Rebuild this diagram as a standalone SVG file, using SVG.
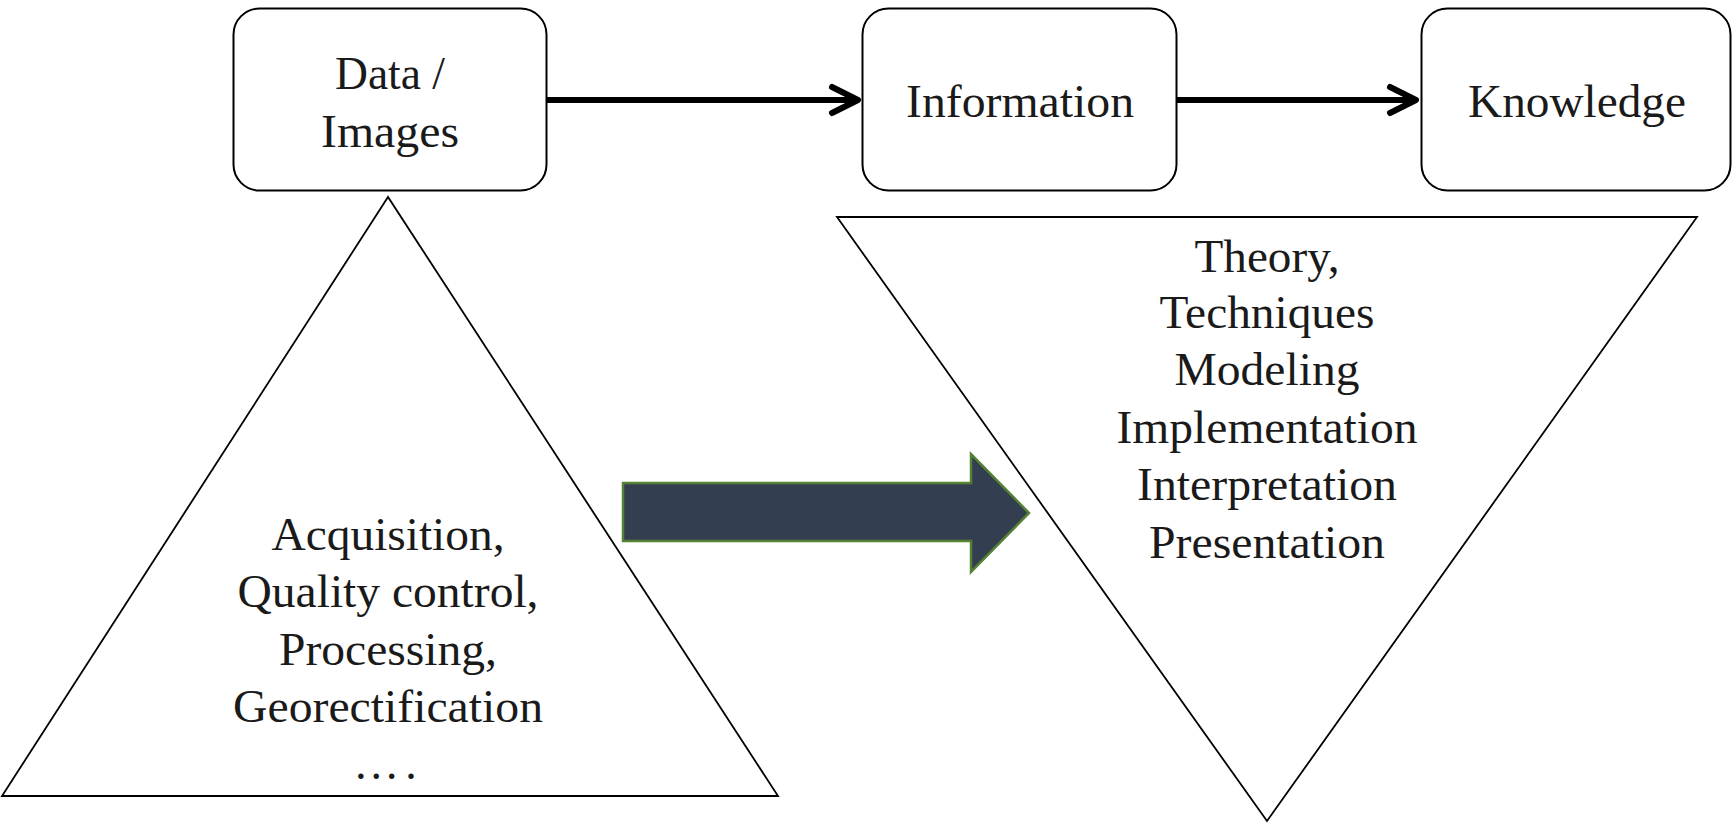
<svg xmlns="http://www.w3.org/2000/svg" width="1732" height="823" viewBox="0 0 1732 823">
  <style>
    .box { fill: #ffffff; stroke: #000000; stroke-width: 2; }
    .tri { fill: #ffffff; stroke: #000000; stroke-width: 1.8; stroke-linejoin: miter; }
    .lbl { font-family: "Liberation Serif", "Times New Roman", serif; font-size: 46px; fill: #1a1a1a; text-anchor: middle; }
    .conn { stroke: #000000; stroke-width: 6; fill: none; }
    .big { fill: #333f50; stroke: #548235; stroke-width: 2.5; }
  </style>
  <defs>
    <marker id="chev" markerUnits="userSpaceOnUse" viewBox="-34 -20 40 40" refX="0" refY="0" markerWidth="40" markerHeight="40" orient="auto" overflow="visible">
      <path d="M-26,-13 L0,0 L-26,13" fill="none" stroke="#000000" stroke-width="6" stroke-linecap="round" stroke-linejoin="round"/>
    </marker>
  </defs>
  <rect width="1732" height="823" fill="#ffffff"/>

  <g id="triangle-left">
    <polygon class="tri" points="388,197 2,796 778,796"/>
    <text class="lbl" x="388" y="550" textLength="233" lengthAdjust="spacingAndGlyphs">Acquisition,</text>
    <text class="lbl" x="388" y="607" textLength="301" lengthAdjust="spacingAndGlyphs">Quality control,</text>
    <text class="lbl" x="388" y="665" textLength="218" lengthAdjust="spacingAndGlyphs">Processing,</text>
    <text class="lbl" x="388" y="722" textLength="310" lengthAdjust="spacingAndGlyphs">Georectification</text>
    <text class="lbl" x="388" y="779" letter-spacing="6">….</text>
  </g>

  <g id="triangle-right">
    <polygon class="tri" points="837,217 1697,217 1267,821"/>
    <text class="lbl" x="1267" y="272" textLength="145" lengthAdjust="spacingAndGlyphs">Theory,</text>
    <text class="lbl" x="1267" y="328" textLength="215" lengthAdjust="spacingAndGlyphs">Techniques</text>
    <text class="lbl" x="1267" y="385" textLength="185" lengthAdjust="spacingAndGlyphs">Modeling</text>
    <text class="lbl" x="1267" y="443" textLength="301" lengthAdjust="spacingAndGlyphs">Implementation</text>
    <text class="lbl" x="1267" y="500" textLength="260" lengthAdjust="spacingAndGlyphs">Interpretation</text>
    <text class="lbl" x="1267" y="558" textLength="236" lengthAdjust="spacingAndGlyphs">Presentation</text>
  </g>

  <g id="block-arrow">
    <polygon class="big" points="623,483 971,483 971,454 1029,513 971,572 971,541 623,541"/>
  </g>

  <g id="connectors">
    <line class="conn" x1="547" y1="100" x2="858" y2="100" marker-end="url(#chev)"/>
    <line class="conn" x1="1177" y1="100" x2="1416" y2="100" marker-end="url(#chev)"/>
  </g>

  <g id="node-data">
    <rect class="box" x="233.5" y="8.5" width="313" height="182" rx="26" ry="26"/>
    <text class="lbl" x="390" y="89" textLength="110" lengthAdjust="spacingAndGlyphs">Data /</text>
    <text class="lbl" x="390" y="147" textLength="138" lengthAdjust="spacingAndGlyphs">Images</text>
  </g>

  <g id="node-information">
    <rect class="box" x="862.5" y="8.5" width="314" height="182" rx="26" ry="26"/>
    <text class="lbl" x="1020" y="117" textLength="228" lengthAdjust="spacingAndGlyphs">Information</text>
  </g>

  <g id="node-knowledge">
    <rect class="box" x="1421.5" y="8.5" width="309" height="182" rx="26" ry="26"/>
    <text class="lbl" x="1577" y="117" textLength="218" lengthAdjust="spacingAndGlyphs">Knowledge</text>
  </g>
</svg>
